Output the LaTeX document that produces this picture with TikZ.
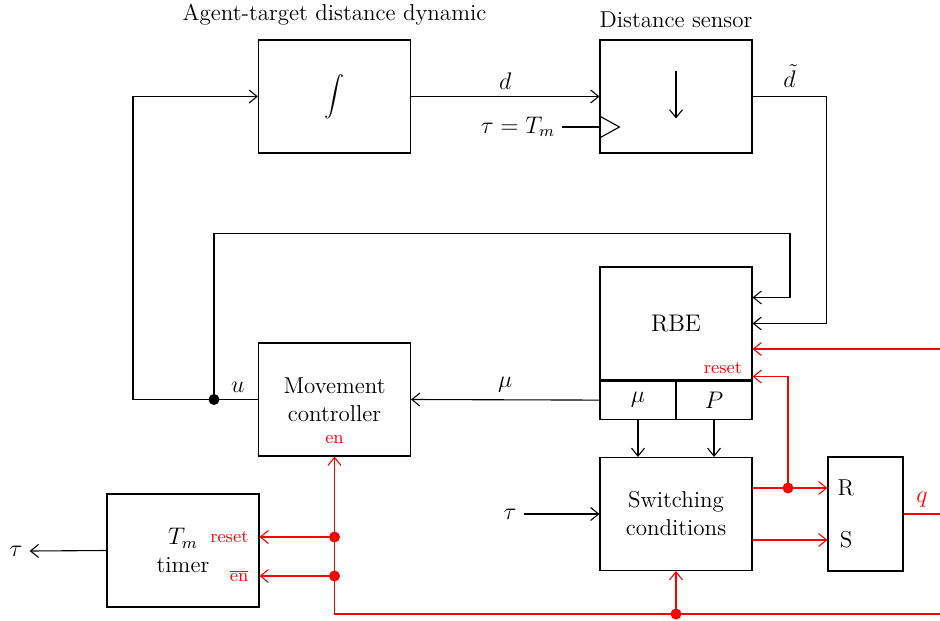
\documentclass[tikz,border=0pt]{standalone}
\usetikzlibrary{calc,positioning,arrows.meta}

\begin{document}
\begin{tikzpicture}[x=0.5pt, y=-0.5pt, line width=0.55pt,
    >={Straight Barb[length=4pt,width=6.5pt]},
    font=\fontsize{11.5}{14}\selectfont,
    blockbox/.style={draw, minimum width=76pt, minimum height=56.5pt, align=center, inner sep=0pt},
    cellbox/.style={draw, minimum width=38pt, minimum height=19pt, inner sep=0pt},
    srbox/.style={draw, minimum width=37.5pt, minimum height=57pt, inner sep=0pt},
    sig/.style={red},
    siglabel/.style={red, font=\small, inner sep=1pt},
    dot/.style={circle, fill, inner sep=0pt, minimum size=5.5pt}]
    \useasboundingbox (0,0) rectangle (940,620);

    \node[blockbox] (integ) at (334.5,96.5) {$\displaystyle\int$};
    \node (integlbl) at (334.5,15) {Agent-target distance dynamic};
    \node[blockbox] (sensor) at (676,96.5) {};
    \node (sensorlbl) at (676,20) {Distance sensor};
    \draw[->] ($(sensor.center)+(0,-25)$) -- ($(sensor.center)+(0,22)$);

    \node[blockbox] (rbe) at (676,323.5) {\large RBE};
    \node[cellbox, anchor=north west] (mucell) at (rbe.south west) {$\mu$};
    \node[cellbox, anchor=north east] (pcell) at (rbe.south east) {$P$};
    \node[siglabel, anchor=south east] (rbereset) at ([xshift=-4pt,yshift=2pt]rbe.south east) {reset};

    \node[blockbox] (ctrl) at (334.5,399.5) {Movement\\controller};
    \node[siglabel] (ctrlen) at (334.5,440) {en};
    \node[blockbox] (switch) at (676,514) {Switching\\conditions};
    \node[srbox] (sr) at (865.5,514) {};
    \node (rlbl) at (846,488) {R};
    \node (slbl) at (846,540) {S};

    \node[blockbox] (timer) at (183,550.5) {$T_m$\\timer};
    \node[siglabel, anchor=east] (timreset) at (251,537) {reset};
    \node[siglabel, anchor=east] (timen) at (251,576) {$\overline{\mbox{en}}$};

    \node (tmlbl) at (518,127) {$\tau = T_m$};
    \node (tauin) at (510,514) {$\tau$};
    \node (tauout) at (16,551) {$\tau$};
    \coordinate (junc) at (214,399.5);
    \coordinate (rin) at (940,349);
    \coordinate (busend) at (940,614);
    \coordinate (srtap) at (788,488);

    \draw[->] (integ.east) -- node[above] {$d$} (sensor.west);
    \draw (tmlbl.east) -- ([yshift=-15.25pt]sensor.west);
    \draw ([yshift=-9.75pt]sensor.west) -- ([xshift=10pt,yshift=-15.25pt]sensor.west) -- ([yshift=-20.75pt]sensor.west);
    \draw[->] (sensor.east) -- ++(74,0) node[midway, above=1pt] {$\tilde{d}$} |- (rbe.east);
    \draw[->] (junc) |- ++(576,-166) |- ([yshift=13pt]rbe.east);

    \draw[->] (ctrl.west) -- ++(-125,0) |- (integ.west);
    \node[dot] at (junc) {};
    \node[above right=0pt and 5pt of junc] {$u$};
    \draw[->] (mucell.west) -- node[above] {$\mu$} (ctrl.east);
    \draw[->] (mucell.south) -- (mucell.south |- switch.north);
    \draw[->] (pcell.south) -- (pcell.south |- switch.north);
    \draw[->] (tauin) -- (switch.west);
    \draw[->] (timer.west) -- (tauout.east);

    \draw[sig, ->] (rin) -- (rin -| rbe.east);
    \draw[sig, ->] ([yshift=13pt]switch.east) -- ([yshift=13pt]sr.west);
    \draw[sig, ->] ([yshift=-13pt]switch.east) -- ([yshift=-13pt]sr.west);
    \draw[sig, ->] (srtap) |- ([yshift=2pt]rbe.south east);
    \node[dot, red] at (srtap) {};
    \draw[sig] (sr.east) -- ++(37,0) node[midway, above, red] {$q$};

    \draw[sig, ->] (busend) -| (ctrl.south);
    \node[dot, red] (busdot) at (switch.south |- busend) {};
    \draw[sig, ->] (busdot.center) -- (switch.south);
    \node[dot, red] (rdot) at (ctrl.south |- timreset) {};
    \node[dot, red] (edot) at (ctrl.south |- timen) {};
    \draw[sig, ->] (rdot.center) -- (rdot -| timer.east);
    \draw[sig, ->] (edot.center) -- (edot -| timer.east);
\end{tikzpicture}
\end{document}
